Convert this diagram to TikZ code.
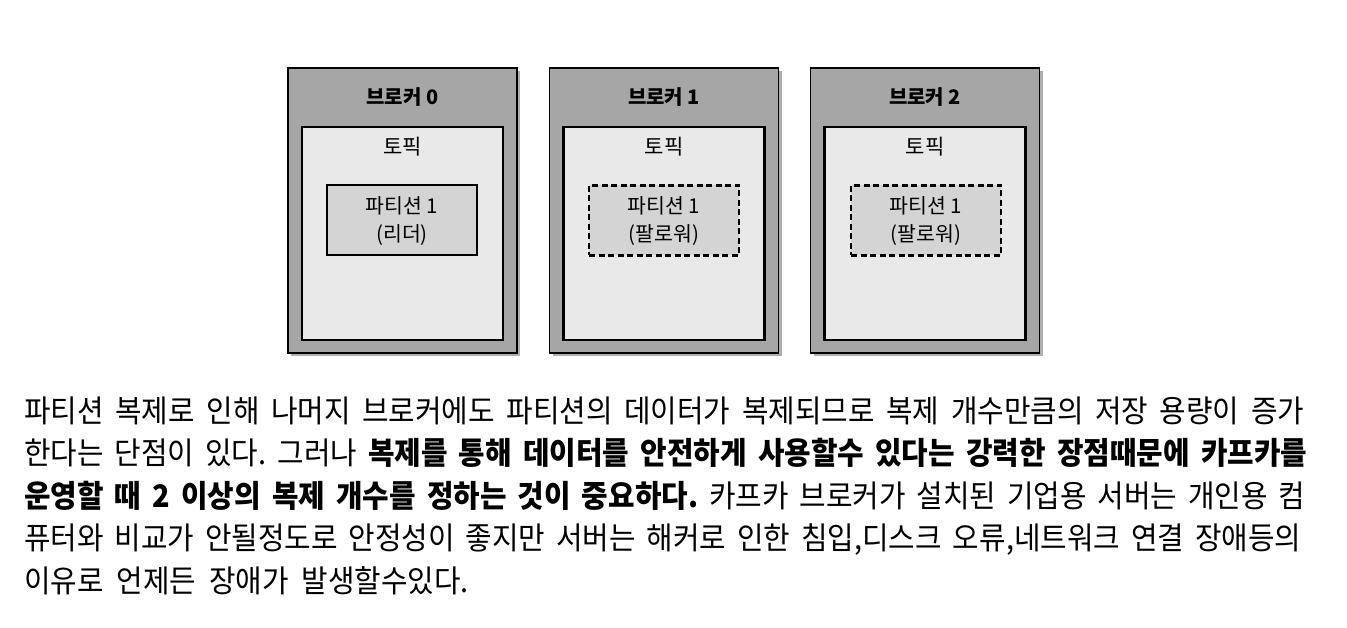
\documentclass[tikz,border=0pt]{standalone}
\usepackage{fontspec}
\setmainfont{Noto Sans CJK KR}
\newfontfamily\para[FakeStretch=0.93,WordSpace=2]{Noto Sans CJK KR}
\usetikzlibrary{shadows}
\definecolor{brokerfill}{HTML}{A6A6A6}
\definecolor{topicfill}{HTML}{E9E9E9}
\definecolor{partfill}{HTML}{D4D4D4}
\tikzset{
  broker/.style={draw=black, line width=1.8pt, fill=brokerfill, minimum width=229pt, minimum height=285pt, inner sep=0pt,
    drop shadow={shadow xshift=3pt, shadow yshift=-3pt, fill=black!45, opacity=0.7}},
  topic/.style={draw=black, line width=2.2pt, fill=topicfill, minimum width=201pt, minimum height=213pt, inner sep=0pt},
  partbox/.style={draw=black, line width=2.2pt, fill=partfill, minimum width=150pt, minimum height=70pt, inner sep=0pt},
  followbox/.style={partbox, dash pattern=on 6pt off 3.5pt},
  title/.style={font=\fontsize{20}{24}\selectfont\bfseries},
  toptext/.style={font=\fontsize{21}{24}\selectfont},
  parttext/.style={font=\fontsize{20.5}{28.5}\selectfont, align=center},
  pline/.style={anchor=base west, inner sep=0pt, font=\para\fontsize{31}{34}\selectfont},
}
\begin{document}
\frenchspacing
\begin{tikzpicture}[x=1pt,y=-1pt]
\useasboundingbox (0,0) rectangle (1347,628);
% brokers
\node[broker] (b0) at (402.5,210.5) {};
\node[broker] (b1) at (664,210.5) {};
\node[broker] (b2) at (925,210.5) {};
\node[title] (b0t) at (402.5,97) {브로커 0};
\node[title] (b1t) at (664,97) {브로커 1};
\node[title] (b2t) at (925,97) {브로커 2};
% topics
\node[topic] (t0) at (402.5,233.5) {};
\node[topic] (t1) at (664,233.5) {};
\node[topic] (t2) at (925,233.5) {};
\node[toptext] (t0t) at (402.5,147) {토픽};
\node[toptext] (t1t) at (664,147) {토픽};
\node[toptext] (t2t) at (925,147) {토픽};
% partitions
\node[partbox] (p0) at (402,220) {};
\node[followbox] (p1) at (664,220.5) {};
\node[followbox] (p2) at (926,220.5) {};
\node[parttext] (p0t) at (402,221) {파티션 1\\(리더)};
\node[parttext] (p1t) at (664,221) {파티션 1\\(팔로워)};
\node[parttext] (p2t) at (926,221) {파티션 1\\(팔로워)};
% paragraph
\node[pline] (l1) at (24,422) {\makebox[1280pt][s]{파티션 복제로 인해 나머지 브로커에도 파티션의 데이터가 복제되므로 복제 개수만큼의 저장 용량이 증가}};
\node[pline] (l2) at (24,464.5) {\makebox[1283pt][s]{한다는 단점이 있다. 그러나 {\bfseries 복제를 통해 데이터를 안전하게 사용할수 있다는 강력한 장점때문에 카프카를}}};
\node[pline] (l3) at (24,507) {\makebox[1281pt][s]{{\bfseries 운영할 때 2 이상의 복제 개수를 정하는 것이 중요하다.} 카프카 브로커가 설치된 기업용 서버는 개인용 컴}};
\node[pline] (l4) at (24,549.5) {\makebox[1277pt][s]{퓨터와 비교가 안될정도로 안정성이 좋지만 서버는 해커로 인한 침입,디스크 오류,네트워크 연결 장애등의}};
\node[pline] (l5) at (24,592) {이유로 언제든 장애가 발생할수있다.};
\end{tikzpicture}
\end{document}
